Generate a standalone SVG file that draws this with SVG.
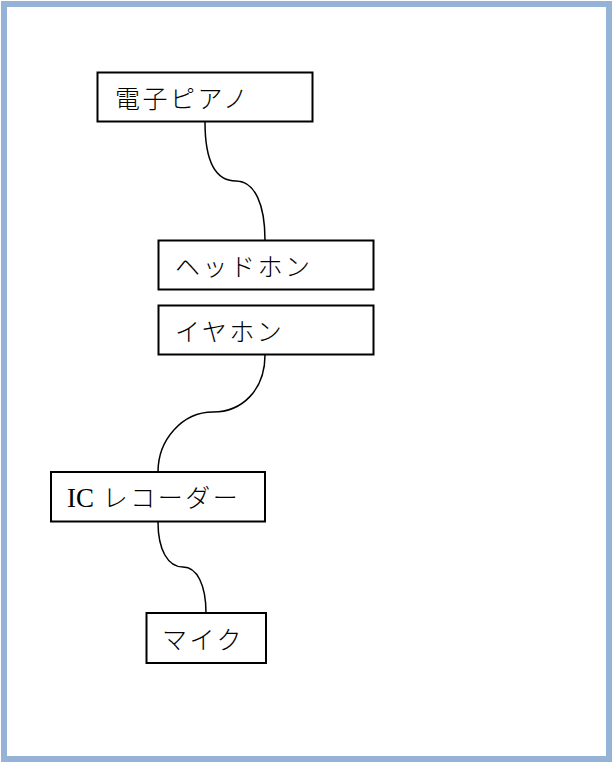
<svg xmlns="http://www.w3.org/2000/svg" width="613" height="764" viewBox="0 0 613 764">
<style>
.frame{fill:#ffffff;stroke:#95b3d7;stroke-width:6}
.box{fill:#ffffff;stroke:#000000;stroke-width:2}
.lbl{font-family:"Liberation Serif","Noto Sans CJK JP",serif;font-size:25px;font-weight:300;fill:#000000;dominant-baseline:central;letter-spacing:2.5px}
.lat{font-size:27px;font-weight:400;letter-spacing:0}
.wire{fill:none;stroke:#000000;stroke-width:1.5}
</style>
<rect class="frame" x="4" y="4" width="605" height="755"/>
<g id="connectors">
<path class="wire" d="M205,122 C205,165 218,181 236,181 C255,181 265,205 265,240"/>
<path class="wire" d="M265,355 C265,390 242,412 213,412 C182,412 158,440 158,472"/>
<path class="wire" d="M158,522 C158,550 168,567 183,567 C197,567 206,585 206,613"/>
</g>
<g id="piano">
<rect class="box" x="97.5" y="72.5" width="215" height="49"/>
<text class="lbl" x="115" y="99">電子ピアノ</text>
</g>
<g id="headphone">
<rect class="box" x="158.5" y="240.5" width="215" height="49"/>
<text class="lbl" x="175" y="267">ヘッドホン</text>
</g>
<g id="earphone">
<rect class="box" x="158.5" y="305.5" width="215" height="49"/>
<text class="lbl" x="175" y="332">イヤホン</text>
</g>
<g id="recorder">
<rect class="box" x="51" y="472" width="214" height="49.5"/>
<text class="lbl" x="67" y="498"><tspan class="lat">IC</tspan> レコーダー</text>
</g>
<g id="mic">
<rect class="box" x="146.5" y="613" width="119.5" height="50"/>
<text class="lbl" x="162" y="640">マイク</text>
</g>
</svg>
